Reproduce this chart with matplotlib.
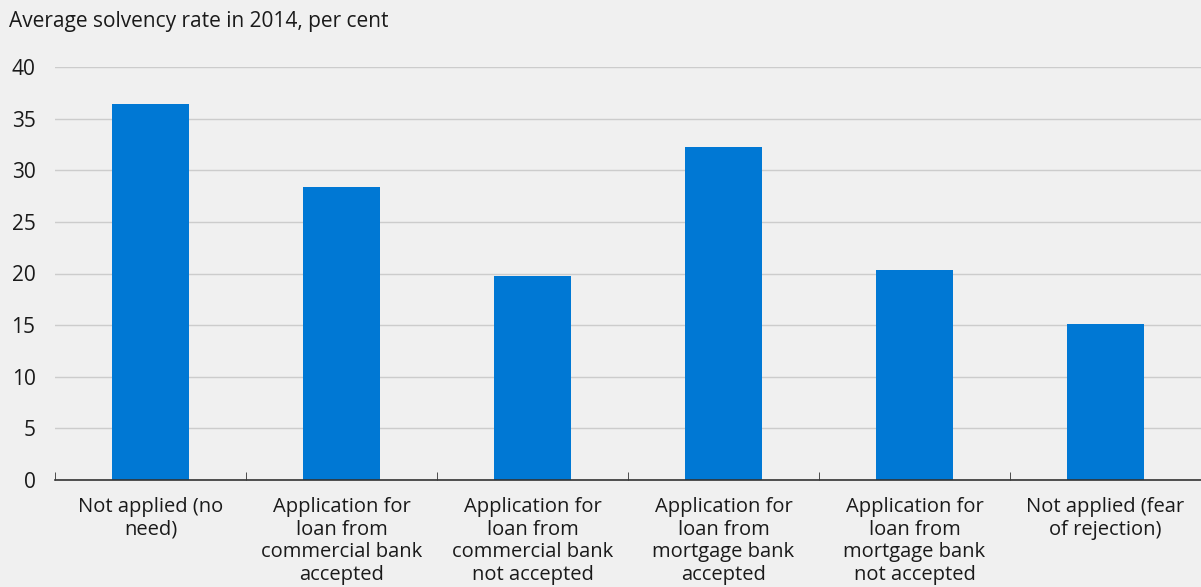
import matplotlib
matplotlib.use("Agg")
import matplotlib.pyplot as plt
import numpy as np

plt.rcParams['font.family'] = ['Open Sans', 'DejaVu Sans']

categories = [
    "Not applied (no\nneed)",
    "Application for\nloan from\ncommercial bank\naccepted",
    "Application for\nloan from\ncommercial bank\nnot accepted",
    "Application for\nloan from\nmortgage bank\naccepted",
    "Application for\nloan from\nmortgage bank\nnot accepted",
    "Not applied (fear\nof rejection)",
]
values = [36.4, 28.4, 19.8, 32.3, 20.3, 15.1]
yticks = [0, 5, 10, 15, 20, 25, 30, 35, 40]

bg = "#f0f0f0"
fig = plt.figure(figsize=(12.01, 5.87), dpi=100, facecolor=bg)
ax = fig.add_axes([55 / 1201, 1 - 480 / 587, 1 - 55 / 1201, (480 - 67) / 587])
ax.set_facecolor(bg)

x = np.arange(len(categories))
ax.bar(x, values, width=0.4, color="#0078d4", zorder=3)

ax.set_xlim(-0.5, len(categories) - 0.5)
ax.set_ylim(0, 40)
ax.set_yticks(yticks)
ax.grid(axis="y", color="#cccccc", linewidth=1, zorder=0)
ax.set_axisbelow(True)

ax.set_xticks(x)
ax.set_xticklabels(categories, fontsize=14.5, color="#1a1a1a", linespacing=1.19)
ax.set_xticks(np.arange(-0.5, len(categories)), minor=True)
ax.tick_params(axis="x", which="major", length=0, pad=12)
ax.tick_params(axis="x", which="minor", direction="in", length=6, color="#333333")
ax.tick_params(axis="y", length=0, labelsize=15, labelcolor="#1a1a1a", pad=14)

for s in ["top", "right", "left"]:
    ax.spines[s].set_visible(False)
ax.spines["bottom"].set_color("#333333")
ax.spines["bottom"].set_linewidth(1.2)
ax.spines["bottom"].set_zorder(4)

fig.text(9 / 1201, 1 - 21 / 587, "Average solvency rate in 2014, per cent",
         fontsize=15, color="#1a1a1a", va="center", ha="left")

fig.savefig("out.png", dpi=100, facecolor=bg)
